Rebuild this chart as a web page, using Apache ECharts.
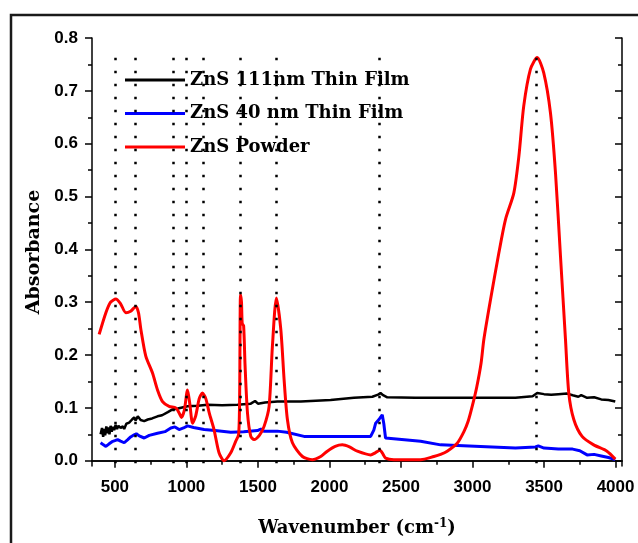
<!DOCTYPE html>
<html>
<head>
<meta charset="utf-8">
<script src="https://cdn.jsdelivr.net/npm/echarts@6/dist/echarts.min.js"></script>
<style>html,body{margin:0;padding:0;background:#fff}#c{width:638px;height:543px}</style>
</head>
<body>
<div id="c"></div>
<script>
// ---- data ----
const xMajorTicks = [500, 1000, 1500, 2000, 2500, 3000, 3500, 4000];
const xMinorTicks = [750, 1250, 1750, 2250, 2750, 3250, 3750];
const yMajorTicks = [0, 0.1, 0.2, 0.3, 0.4, 0.5, 0.6, 0.7, 0.8];
const yMinorTicks = [0.05, 0.15, 0.25, 0.35, 0.45, 0.55, 0.65, 0.75];
const guideWavenumbers = [505, 640, 910, 1000, 1115, 1378, 1630, 2350, 3445];

const film111Wn  = [400,410,418,425,432,440,448,455,462,470,478,486,495,505,515,525,540,555,565,580,600,620,635,645,660,680,705,730,760,798,830,870,903,940,1008,1080,1147,1250,1357,1400,1450,1480,1500,1550,1636,1800,2008,2171,2300,2340,2357,2375,2404,2600,3000,3300,3420,3452,3500,3550,3600,3661,3700,3740,3760,3801,3850,3900,3950,3998];
const film111Abs = [0.050,0.062,0.045,0.060,0.048,0.065,0.052,0.063,0.050,0.066,0.055,0.064,0.058,0.068,0.060,0.066,0.062,0.065,0.060,0.070,0.072,0.078,0.082,0.076,0.084,0.077,0.075,0.078,0.080,0.084,0.086,0.092,0.097,0.099,0.103,0.104,0.106,0.105,0.106,0.107,0.108,0.113,0.108,0.110,0.112,0.112,0.115,0.119,0.121,0.125,0.128,0.124,0.120,0.119,0.119,0.119,0.122,0.128,0.126,0.125,0.126,0.127,0.124,0.121,0.124,0.119,0.120,0.116,0.115,0.112];

const film40Wn  = [400,420,437,460,480,500,519,540,565,590,610,635,650,670,705,740,798,850,891,920,949,980,1008,1050,1124,1200,1310,1400,1497,1520,1540,1636,1700,1822,2008,2288,2310,2323,2346,2355,2369,2380,2392,2637,2777,3056,3300,3440,3460,3500,3600,3700,3750,3801,3850,3900,3950,3998];
const film40Abs = [0.034,0.030,0.027,0.032,0.036,0.038,0.040,0.037,0.034,0.040,0.045,0.049,0.051,0.047,0.043,0.048,0.052,0.055,0.062,0.064,0.059,0.062,0.066,0.063,0.059,0.057,0.054,0.055,0.057,0.060,0.056,0.056,0.054,0.046,0.046,0.046,0.058,0.071,0.078,0.076,0.087,0.070,0.043,0.037,0.030,0.027,0.024,0.026,0.028,0.024,0.022,0.022,0.019,0.011,0.012,0.009,0.006,0.002];

const powderWn  = [390,437,470,507,540,577,610,647,665,682,716,763,798,833,879,926,950,965,985,1008,1025,1043,1065,1090,1112,1135,1160,1193,1228,1263,1310,1345,1365,1372,1378,1385,1390,1400,1410,1427,1450,1473,1510,1543,1578,1601,1629,1660,1683,1706,1741,1811,1880,1939,1985,2040,2090,2140,2195,2288,2320,2353,2375,2392,2450,2637,2730,2777,2823,2893,2940,2970,3000,3030,3060,3079,3126,3184,3230,3289,3324,3358,3405,3452,3498,3545,3580,3615,3650,3673,3708,3766,3847,3940,3998];
const powderAbs = [0.239,0.280,0.300,0.306,0.297,0.280,0.283,0.292,0.280,0.248,0.198,0.166,0.134,0.112,0.103,0.100,0.090,0.082,0.095,0.134,0.105,0.071,0.085,0.118,0.128,0.118,0.090,0.059,0.015,0.000,0.015,0.037,0.050,0.120,0.314,0.300,0.260,0.255,0.180,0.090,0.046,0.040,0.048,0.065,0.103,0.216,0.308,0.248,0.153,0.078,0.034,0.008,0.002,0.008,0.018,0.027,0.030,0.026,0.018,0.011,0.015,0.020,0.012,0.005,0.002,0.002,0.008,0.012,0.018,0.033,0.055,0.075,0.105,0.140,0.185,0.229,0.305,0.393,0.456,0.507,0.576,0.671,0.741,0.763,0.734,0.658,0.545,0.387,0.229,0.128,0.078,0.046,0.030,0.018,0.003];

const seriesNames = ['ZnS 111nm Thin Film', 'ZnS 40 nm Thin Film', 'ZnS Powder'];

function zip(a, b) { return a.map((v, i) => [v, b[i]]); }

const X_MIN = 340, X_MAX = 4045, Y_MIN = -0.01, Y_MAX = 0.8;
const tickFont = { fontFamily: 'Liberation Sans', fontWeight: 'bold', fontSize: 17, color: '#000' };
const serif = 'DejaVu Serif';

function xAxisDef(pos, ticks, len, inside, labels, extra) {
  return Object.assign({
    type: 'value', position: pos, min: X_MIN, max: X_MAX,
    axisLine: { show: true, lineStyle: { color: '#000', width: 1.5 } },
    axisTick: { show: true, customValues: ticks, length: len, inside: inside, lineStyle: { color: '#000', width: 1.5 } },
    axisLabel: labels ? Object.assign({ show: true, customValues: ticks, margin: 13, formatter: v => String(v) }, tickFont) : { show: false },
    splitLine: { show: false }
  }, extra || {});
}
function yAxisDef(pos, ticks, len, inside, labels, extra) {
  return Object.assign({
    type: 'value', position: pos, min: Y_MIN, max: Y_MAX,
    axisLine: { show: true, lineStyle: { color: '#000', width: 1.5 } },
    axisTick: { show: true, customValues: ticks, length: len, inside: inside, lineStyle: { color: '#000', width: 1.5 } },
    axisLabel: labels ? Object.assign({ show: true, customValues: ticks, margin: 14, formatter: v => v.toFixed(1) }, tickFont) : { show: false },
    splitLine: { show: false }
  }, extra || {});
}

const chart = echarts.init(document.getElementById('c'), null, { renderer: 'canvas' });
chart.setOption({
  animation: false,
  backgroundColor: '#fff',
  grid: { left: 92, top: 38, width: 530, height: 428, containLabel: false },
  graphic: [{
    type: 'rect', silent: true, z: 100,
    shape: { x: 11, y: 15, width: 650, height: 560 },
    style: { fill: 'none', stroke: '#1a1a1a', lineWidth: 2.5 }
  }],
  legend: {
    data: seriesNames,
    orient: 'vertical', left: 125, top: 69, padding: 0,
    icon: 'rect', itemWidth: 60, itemHeight: 3, itemGap: 11.5,
    textStyle: { fontFamily: serif, fontWeight: 'bold', fontSize: 18, color: '#000', lineHeight: 22 }
  },
  xAxis: [
    xAxisDef('bottom', xMajorTicks, 7, false, true, {
      name: '{n|Wavenumber (cm}{s|-1}{n|)}', nameLocation: 'middle', nameGap: 52,
      nameTextStyle: { rich: {
        n: { fontFamily: serif, fontWeight: 'bold', fontSize: 18, color: '#000' },
        s: { fontFamily: serif, fontWeight: 'bold', fontSize: 12, color: '#000', verticalAlign: 'top', padding: [0, 0, 8, 0] }
      } }
    }),
    xAxisDef('bottom', xMinorTicks, 4, false, false, { axisLine: { show: false } }),
    xAxisDef('top', xMajorTicks, 7, true, false),
    xAxisDef('top', xMinorTicks, 4, true, false, { axisLine: { show: false } })
  ],
  yAxis: [
    yAxisDef('left', yMajorTicks, 7, false, true, {
      name: 'Absorbance', nameLocation: 'middle', nameGap: 47,
      nameTextStyle: { fontFamily: serif, fontWeight: 'bold', fontSize: 19, color: '#000' }
    }),
    yAxisDef('left', yMinorTicks, 4, false, false, { axisLine: { show: false } }),
    yAxisDef('right', yMajorTicks, 7, true, false),
    yAxisDef('right', yMinorTicks, 4, true, false, { axisLine: { show: false } })
  ],
  series: [
    {
      name: 'guides', type: 'line', data: [], silent: true, symbol: 'none',
      markLine: {
        silent: true, symbol: ['none', 'none'], label: { show: false },
        lineStyle: { color: '#000', width: 2.5, type: [2.5, 10.5] },
        emphasis: { disabled: true },
        data: guideWavenumbers.map(v => [{ coord: [v, -0.005] }, { coord: [v, 0.765] }])
      }
    },
    { name: seriesNames[0], type: 'line', data: zip(film111Wn, film111Abs), symbol: 'none', color: '#000', lineStyle: { width: 2.5, color: '#000' } },
    { name: seriesNames[1], type: 'line', data: zip(film40Wn, film40Abs), symbol: 'none', color: '#0000ff', lineStyle: { width: 3, color: '#0000ff' } },
    { name: seriesNames[2], type: 'line', data: zip(powderWn, powderAbs), symbol: 'none', smooth: 0.25, color: '#ff0000', lineStyle: { width: 3, color: '#ff0000' } }
  ]
});
</script>
</body>
</html>
